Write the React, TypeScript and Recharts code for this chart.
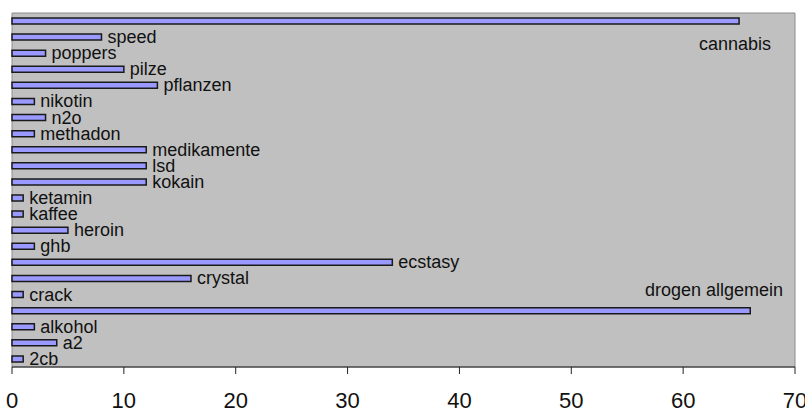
import { BarChart, Bar, XAxis, YAxis, ReferenceArea, LabelList } from 'recharts';

// top to bottom, as in the picture
const drugs = [
  'cannabis', 'speed', 'poppers', 'pilze', 'pflanzen', 'nikotin', 'n2o', 'methadon',
  'medikamente', 'lsd', 'kokain', 'ketamin', 'kaffee', 'heroin', 'ghb', 'ecstasy',
  'crystal', 'crack', 'drogen allgemein', 'alkohol', 'a2', '2cb',
];
const counts = [65, 8, 3, 10, 13, 2, 3, 2, 12, 12, 12, 1, 1, 5, 2, 34, 16, 1, 66, 2, 4, 1];
const xTicks = [0, 10, 20, 30, 40, 50, 60, 70];

const data = drugs.map((name, i) => ({ name, value: counts[i] }));

const FONT = '"Liberation Sans", Arial, sans-serif';
const PLOT_RIGHT = 795;

// Excel-style data labels; the two long bars had their labels moved to the right edge
function renderLabel(props: any) {
  const { x, y, width, height, index } = props;
  const name = drugs[index];
  const cy = y + height / 2;
  if (name === 'cannabis') {
    return (
      <text x={PLOT_RIGHT - 24} y={cy + 29} textAnchor="end" fontSize={18} fontFamily={FONT} fill="#111">
        {name}
      </text>
    );
  }
  if (name === 'drogen allgemein') {
    return (
      <text x={PLOT_RIGHT - 12} y={cy - 15} textAnchor="end" fontSize={18} fontFamily={FONT} fill="#111">
        {name}
      </text>
    );
  }
  return (
    <text x={x + width + 6} y={cy + 6} textAnchor="start" fontSize={18} fontFamily={FONT} fill="#111">
      {name}
    </text>
  );
}

export default function App() {
  return (
    <div style={{ position: 'absolute', left: 0, top: 0, background: '#fff' }}>
      <BarChart
        width={805}
        height={410}
        data={data}
        layout="vertical"
        margin={{ top: 13, right: 10, bottom: 3, left: 12 }}
      >
        <XAxis
          type="number"
          domain={[0, 70]}
          ticks={xTicks}
          height={40}
          tickSize={7}
          tickMargin={18}
          axisLine={{ stroke: '#222' }}
          tickLine={{ stroke: '#222' }}
          tick={{ fontSize: 22, fontFamily: FONT, fill: '#111' }}
          interval={0}
        />
        <YAxis
          type="category"
          dataKey="name"
          width={0}
          tick={false}
          tickLine={false}
          axisLine={{ stroke: '#333' }}
        />
        <ReferenceArea x1={0} x2={70} fill="#c0c0c0" fillOpacity={1} stroke="#8c8c8c" ifOverflow="visible" />
        <Bar dataKey="value" fill="#9999ff" stroke="#1a1a1a" strokeWidth={1.5} barSize={6} isAnimationActive={false}>
          <LabelList dataKey="value" content={renderLabel} />
        </Bar>
      </BarChart>
    </div>
  );
}
